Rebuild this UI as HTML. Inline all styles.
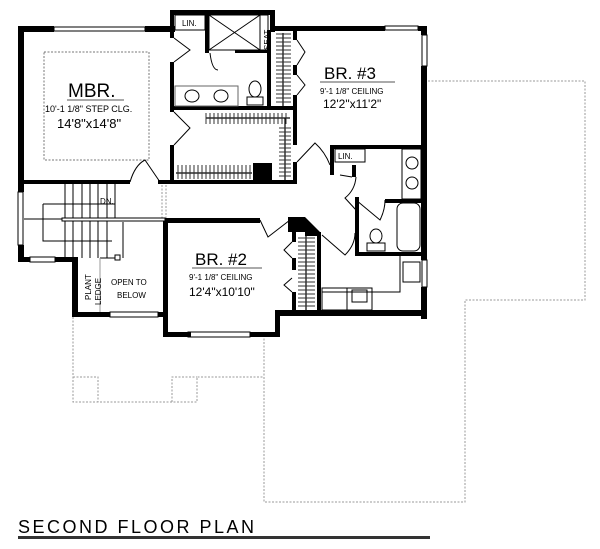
<!DOCTYPE html>
<html><head><meta charset="utf-8"><style>
html,body{margin:0;padding:0;background:#fff;width:600px;height:549px;overflow:hidden}
svg{display:block}
text{font-family:"Liberation Sans",sans-serif;fill:#000}
</style></head><body>
<svg width="600" height="549" viewBox="0 0 600 549" xmlns="http://www.w3.org/2000/svg">
<g fill="none" stroke="#999" stroke-width="1" stroke-dasharray="2,1.5">
<path d="M428 81 H585 V300 H465 V502 H264 V337"/>
<path d="M73 317 V402 H197 V377 H264"/>
<path d="M73 377 H98 V402"/><path d="M172 402 V377 H197"/>
<rect x="44" y="52" width="105" height="108" stroke="#777"/>
<path d="M162 185 V218 M166 185 V218"/>
</g>
<g fill="#000">
<rect x="18" y="26" width="36" height="6"/><rect x="145" y="26" width="30" height="6"/>
<rect x="18" y="26" width="6" height="166"/><rect x="18" y="245" width="6" height="17"/>
<rect x="18" y="180" width="112" height="4"/><rect x="158" y="180" width="139" height="4"/>
<rect x="170" y="10" width="105" height="5"/><rect x="270" y="10" width="5" height="22"/>
<rect x="170" y="10" width="4" height="28"/><rect x="170" y="62" width="4" height="50"/><rect x="170" y="145" width="4" height="38"/>
<rect x="170" y="106" width="127" height="4"/>
<rect x="205" y="15" width="4" height="38"/><rect x="235" y="50" width="35" height="3"/>
<rect x="267" y="30" width="4" height="78"/>
<rect x="253" y="163" width="19" height="18"/>
<rect x="275" y="26" width="110" height="5"/><rect x="418" y="26" width="9" height="5"/>
<rect x="421" y="26" width="6" height="9"/><rect x="421" y="66" width="6" height="194"/><rect x="421" y="287" width="6" height="32"/>
<rect x="293" y="30" width="4" height="10"/><rect x="293" y="65" width="4" height="10"/><rect x="293" y="95" width="4" height="50"/><rect x="293" y="162" width="4" height="22"/>
<rect x="330" y="145" width="97" height="4"/><rect x="330" y="145" width="4" height="30"/>
<rect x="352" y="165" width="4" height="12"/>
<rect x="385" y="199" width="40" height="4"/><rect x="355" y="197" width="4" height="59"/><rect x="355" y="252" width="70" height="4"/>
<rect x="163" y="218" width="97" height="5"/><polygon points="288,217 305,217 320,232 320,236 305,236 305,232 288,232"/>
<rect x="163" y="218" width="5" height="119"/><rect x="163" y="332" width="28" height="5"/><rect x="250" y="332" width="30" height="5"/>
<rect x="275" y="312" width="5" height="25"/><rect x="275" y="310" width="152" height="6"/>
<rect x="292" y="232" width="4" height="10"/><rect x="292" y="258" width="4" height="12"/><rect x="292" y="292" width="4" height="20"/>
<rect x="317" y="232" width="4" height="80"/>
<rect x="18" y="257" width="12" height="5"/><rect x="55" y="257" width="23" height="5"/>
<rect x="72" y="257" width="6" height="60"/><rect x="72" y="312" width="38" height="5"/><rect x="158" y="312" width="10" height="5"/>
</g>
<g fill="none" stroke="#000" stroke-width="1">
<rect x="54" y="27" width="91" height="4"/><rect x="188" y="332" width="62" height="5"/><rect x="110" y="312" width="48" height="5"/>
<rect x="30" y="257" width="25" height="5"/><rect x="18" y="192" width="5" height="53"/><rect x="385" y="26" width="33" height="4"/>
<rect x="422" y="35" width="5" height="31"/><rect x="422" y="260" width="5" height="27"/>
<rect x="209" y="15" width="51" height="35"/><path d="M209 15 L260 50 M260 15 L209 50"/><rect x="260" y="15" width="8" height="35"/>
<rect x="175" y="15" width="30" height="15"/>
<rect x="175" y="86" width="63" height="20" stroke="#666"/>
<ellipse cx="192" cy="96" rx="7" ry="6"/><ellipse cx="221" cy="96" rx="7" ry="6"/>
<ellipse cx="255" cy="89" rx="6" ry="8"/><rect x="247" y="97" width="16" height="8"/>
<path d="M174 38 L190 50 L174 62"/><path d="M174 112 L190 128 L174 145"/>
<path d="M130 182 Q135 165 145 160 L160 182"/><path d="M210 53 Q212 70 218 70"/>
<path d="M297 40 L305 52 L297 65 M297 75 L305 85 L297 95"/>
<path d="M297 162 L315 143 Q325 152 330 165"/>
<path d="M352 177 L340 175"/><path d="M356 177 Q355 190 345 198 L356 210"/>
<path d="M356 200 L380 220 Q385 210 385 200"/>
<path d="M260 220 L268 237 L290 220"/><path d="M292 242 L284 250 L292 258 M292 278 L284 285 L292 292"/>
<path d="M322 235 L345 255 Q355 245 355 233"/>
<rect x="335" y="149" width="30" height="13"/><rect x="402" y="149" width="19" height="50"/>
<circle cx="412" cy="163" r="6"/><circle cx="412" cy="183" r="6"/>
<rect x="397" y="203" width="23" height="48" rx="6"/><ellipse cx="376" cy="236" rx="6" ry="7"/><rect x="367" y="243" width="18" height="8"/>
<rect x="403" y="262" width="17" height="20"/><path d="M400 255 V292 H322"/>
<rect x="322" y="288" width="25" height="22"/><rect x="347" y="288" width="25" height="22"/><rect x="352" y="290" width="15" height="12"/>
<path d="M65 183 V258 M73 183 V258 M82 183 V258 M90 183 V258 M98 183 V258 M107 183 V258 M115 183 V218 M123 222 V258"/>
<path d="M24 219 H62 M43 204 H115 M43 204 V241 H112"/>
<rect x="62" y="218" width="103" height="3" fill="#fff"/><rect x="115" y="255" width="5" height="5"/><path d="M100 258 H115"/>
<path d="M100 258 V312" stroke="#999"/>
</g>
<g stroke="#000" stroke-width="1.2">
<path d="M283 33 V106 M206 118 H290 M285 118 V180 M176 173 H252 M306 236 V310"/>
</g>
<g stroke="#333" stroke-width="1">
<path d="M276 34 H291 M276 38 H291 M276 42 H291 M276 46 H291 M276 50 H291 M276 54 H291 M276 58 H291 M276 62 H291 M276 66 H291 M276 70 H291 M276 74 H291 M276 78 H291 M276 82 H291 M276 86 H291 M276 90 H291 M276 94 H291 M276 98 H291 M276 102 H291"/>
<path d="M206 113 V124 M210 113 V124 M214 113 V124 M218 113 V124 M222 113 V124 M226 113 V124 M230 113 V124 M234 113 V124 M238 113 V124 M242 113 V124 M246 113 V124 M250 113 V124 M254 113 V124 M258 113 V124 M262 113 V124 M266 113 V124 M270 113 V124 M274 113 V124 M278 113 V124 M282 113 V124 M286 113 V124"/>
<path d="M279 128 H291 M279 132 H291 M279 136 H291 M279 140 H291 M279 144 H291 M279 148 H291 M279 152 H291 M279 156 H291 M279 160 H291 M279 164 H291 M279 168 H291 M279 172 H291 M279 176 H291"/>
<path d="M178 165 V179 M182 165 V179 M186 165 V179 M190 165 V179 M194 165 V179 M198 165 V179 M202 165 V179 M206 165 V179 M210 165 V179 M214 165 V179 M218 165 V179 M222 165 V179 M226 165 V179 M230 165 V179 M234 165 V179 M238 165 V179 M242 165 V179 M246 165 V179 M250 165 V179"/>
<path d="M298 238 H315 M298 242 H315 M298 246 H315 M298 250 H315 M298 254 H315 M298 258 H315 M298 262 H315 M298 266 H315 M298 270 H315 M298 274 H315 M298 278 H315 M298 282 H315 M298 286 H315 M298 290 H315 M298 294 H315 M298 298 H315 M298 302 H315 M298 306 H315"/>
</g>
<text x="68" y="97" font-size="19">MBR.</text><line x1="67" y1="100" x2="124" y2="100" stroke="#555"/>
<text x="45" y="112" font-size="9">10'-1 1/8" STEP CLG.</text>
<text x="57" y="128" font-size="13">14'8"x14'8"</text>
<text x="324" y="79" font-size="17">BR. #3</text><line x1="320" y1="82" x2="395" y2="82" stroke="#555"/>
<text x="320" y="94" font-size="8">9'-1 1/8" CEILING</text>
<text x="323" y="108" font-size="12">12'2"x11'2"</text>
<text x="195" y="265" font-size="17">BR. #2</text><line x1="192" y1="268" x2="262" y2="268" stroke="#555"/>
<text x="189" y="280" font-size="8">9'-1 1/8" CEILING</text>
<text x="189" y="296" font-size="12">12'4"x10'10"</text>
<text x="182" y="26" font-size="8">LIN.</text><text x="338" y="159" font-size="8">LIN.</text>
<text x="100" y="204" font-size="8">DN.</text>
<text x="111" y="285" font-size="8">OPEN TO</text><text x="117" y="298" font-size="8">BELOW</text>
<text transform="translate(91,300) rotate(-90)" font-size="8">PLANT</text>
<text transform="translate(101,305) rotate(-90)" font-size="8">LEDGE</text>
<text transform="translate(270,50) rotate(-90)" font-size="8">SEAT</text>
<text x="18" y="533" font-size="18" letter-spacing="2.5">SECOND FLOOR PLAN</text>
<rect x="18" y="536" width="412" height="3" fill="#333"/>
</svg>
</body></html>
